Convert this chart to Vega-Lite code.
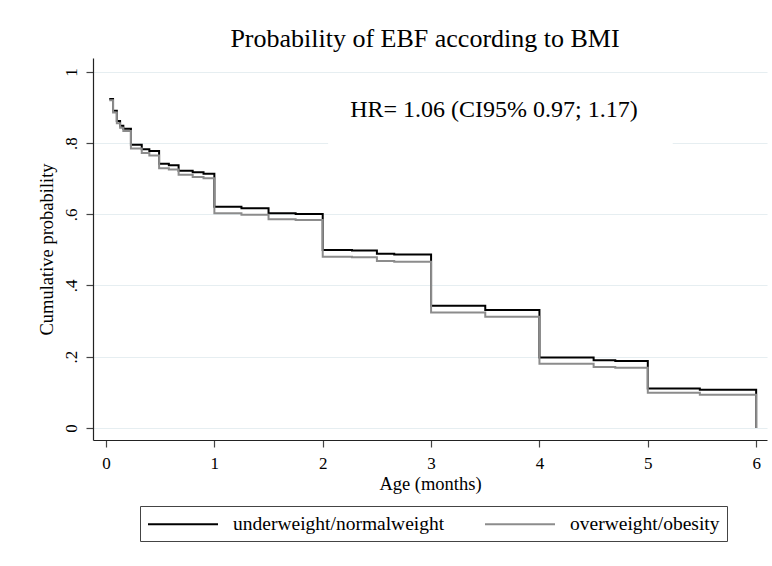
{
  "$schema": "https://vega.github.io/schema/vega-lite/v6.json",
  "autosize": "none",
  "width": 674,
  "height": 382,
  "padding": {"left": 93, "top": 58, "right": 5, "bottom": 126},
  "background": "white",
  "title": {
    "text": "Probability of EBF according to BMI",
    "font": "Liberation Serif",
    "fontSize": 26,
    "fontWeight": "normal",
    "color": "black",
    "anchor": "middle",
    "offset": 6,
    "dx": -5
  },
  "config": {
    "view": {"stroke": null},
    "font": "Liberation Serif",
    "axis": {
      "labelFont": "Liberation Serif",
      "titleFont": "Liberation Serif",
      "labelFontSize": 17,
      "titleFontSize": 18.5,
      "titleFontWeight": "normal",
      "labelColor": "black",
      "titleColor": "black",
      "domainColor": "#222",
      "domainWidth": 1.2,
      "tickColor": "#444",
      "tickSize": 7,
      "tickWidth": 1.2,
      "gridColor": "#e6eef1",
      "gridWidth": 1.2
    },
    "legend": {
      "labelFont": "Liberation Serif",
      "labelFontSize": 19.5,
      "labelColor": "black",
      "labelLimit": 0
    }
  },
  "datasets": {
    "km": [
      {"group": "underweight/normalweight", "t": 0.03, "p": 0.924},
      {"group": "underweight/normalweight", "t": 0.065, "p": 0.891},
      {"group": "underweight/normalweight", "t": 0.1, "p": 0.862},
      {"group": "underweight/normalweight", "t": 0.13, "p": 0.849},
      {"group": "underweight/normalweight", "t": 0.16, "p": 0.84},
      {"group": "underweight/normalweight", "t": 0.23, "p": 0.795},
      {"group": "underweight/normalweight", "t": 0.33, "p": 0.783},
      {"group": "underweight/normalweight", "t": 0.4, "p": 0.778},
      {"group": "underweight/normalweight", "t": 0.49, "p": 0.742},
      {"group": "underweight/normalweight", "t": 0.58, "p": 0.738},
      {"group": "underweight/normalweight", "t": 0.67, "p": 0.722},
      {"group": "underweight/normalweight", "t": 0.8, "p": 0.718},
      {"group": "underweight/normalweight", "t": 0.9, "p": 0.714},
      {"group": "underweight/normalweight", "t": 1.0, "p": 0.621},
      {"group": "underweight/normalweight", "t": 1.25, "p": 0.617},
      {"group": "underweight/normalweight", "t": 1.5, "p": 0.603},
      {"group": "underweight/normalweight", "t": 1.75, "p": 0.601},
      {"group": "underweight/normalweight", "t": 2.0, "p": 0.5},
      {"group": "underweight/normalweight", "t": 2.27, "p": 0.498},
      {"group": "underweight/normalweight", "t": 2.5, "p": 0.489},
      {"group": "underweight/normalweight", "t": 2.66, "p": 0.487},
      {"group": "underweight/normalweight", "t": 3.0, "p": 0.343},
      {"group": "underweight/normalweight", "t": 3.5, "p": 0.331},
      {"group": "underweight/normalweight", "t": 4.0, "p": 0.198},
      {"group": "underweight/normalweight", "t": 4.5, "p": 0.19},
      {"group": "underweight/normalweight", "t": 4.7, "p": 0.188},
      {"group": "underweight/normalweight", "t": 5.0, "p": 0.111},
      {"group": "underweight/normalweight", "t": 5.48, "p": 0.107},
      {"group": "underweight/normalweight", "t": 6.0, "p": 0.0},
      {"group": "overweight/obesity", "t": 0.03, "p": 0.92},
      {"group": "overweight/obesity", "t": 0.065, "p": 0.886},
      {"group": "overweight/obesity", "t": 0.1, "p": 0.856},
      {"group": "overweight/obesity", "t": 0.13, "p": 0.843},
      {"group": "overweight/obesity", "t": 0.16, "p": 0.834},
      {"group": "overweight/obesity", "t": 0.23, "p": 0.785},
      {"group": "overweight/obesity", "t": 0.33, "p": 0.772},
      {"group": "overweight/obesity", "t": 0.4, "p": 0.765},
      {"group": "overweight/obesity", "t": 0.49, "p": 0.729},
      {"group": "overweight/obesity", "t": 0.58, "p": 0.726},
      {"group": "overweight/obesity", "t": 0.67, "p": 0.711},
      {"group": "overweight/obesity", "t": 0.8, "p": 0.705},
      {"group": "overweight/obesity", "t": 0.9, "p": 0.701},
      {"group": "overweight/obesity", "t": 1.0, "p": 0.603},
      {"group": "overweight/obesity", "t": 1.25, "p": 0.599},
      {"group": "overweight/obesity", "t": 1.5, "p": 0.586},
      {"group": "overweight/obesity", "t": 1.75, "p": 0.584},
      {"group": "overweight/obesity", "t": 2.0, "p": 0.481},
      {"group": "overweight/obesity", "t": 2.27, "p": 0.479},
      {"group": "overweight/obesity", "t": 2.5, "p": 0.469},
      {"group": "overweight/obesity", "t": 2.66, "p": 0.467},
      {"group": "overweight/obesity", "t": 3.0, "p": 0.324},
      {"group": "overweight/obesity", "t": 3.5, "p": 0.312},
      {"group": "overweight/obesity", "t": 4.0, "p": 0.18},
      {"group": "overweight/obesity", "t": 4.5, "p": 0.171},
      {"group": "overweight/obesity", "t": 4.7, "p": 0.169},
      {"group": "overweight/obesity", "t": 5.0, "p": 0.099},
      {"group": "overweight/obesity", "t": 5.48, "p": 0.093},
      {"group": "overweight/obesity", "t": 6.0, "p": 0.0}
    ],
    "note": [
      {"label": "HR= 1.06 (CI95% 0.97; 1.17)"}
    ]
  },
  "layer": [
    {
      "data": {"name": "note"},
      "mark": {"type": "rect", "fill": "white", "stroke": null},
      "encoding": {
        "x": {"datum": 2.05, "type": "quantitative", "scale": {"domain": [-0.12, 6.1], "nice": false, "zero": false}},
        "x2": {"datum": 5.23},
        "y": {"datum": 0.785, "type": "quantitative", "scale": {"domain": [-0.034, 1.039], "nice": false, "zero": false}},
        "y2": {"datum": 0.99}
      }
    },
    {
      "data": {"name": "note"},
      "mark": {
        "type": "text",
        "font": "Liberation Serif",
        "fontSize": 24,
        "color": "black",
        "align": "center",
        "baseline": "middle"
      },
      "encoding": {
        "text": {"field": "label"},
        "x": {"datum": 3.58, "type": "quantitative"},
        "y": {"datum": 0.893, "type": "quantitative"}
      }
    },
    {
      "data": {"name": "km"},
      "transform": [{"filter": "datum.group == 'underweight/normalweight'"}],
      "mark": {"type": "line", "interpolate": "step-after", "strokeWidth": 2},
      "encoding": {
        "x": {
          "field": "t",
          "type": "quantitative",
          "scale": {"domain": [-0.12, 6.1], "nice": false, "zero": false},
          "axis": {
            "title": "Age (months)",
            "values": [0, 1, 2, 3, 4, 5, 6],
            "format": "d",
            "grid": false,
            "labelPadding": 8,
            "titlePadding": 3
          }
        },
        "y": {
          "field": "p",
          "type": "quantitative",
          "scale": {"domain": [-0.034, 1.039], "nice": false, "zero": false},
          "axis": {
            "title": "Cumulative probability",
            "values": [0, 0.2, 0.4, 0.6, 0.8, 1],
            "grid": true,
            "labelAngle": -90,
            "labelAlign": "center",
            "labelBaseline": "bottom",
            "labelPadding": 6,
            "titlePadding": 6,
            "labelExpr": "datum.value == 0 ? '0' : datum.value == 1 ? '1' : replace(format(datum.value, '.1f'), '0.', '.')"
          }
        },
        "color": {
          "field": "group",
          "type": "nominal",
          "scale": {
            "domain": ["underweight/normalweight", "overweight/obesity"],
            "range": ["#000000", "#8c8c8c"]
          },
          "legend": {
            "title": null,
            "orient": "none",
            "legendX": 47,
            "legendY": 448,
            "direction": "horizontal",
            "columns": 2,
            "symbolType": "M-3.5,0H3.5",
            "symbolSize": 400,
            "symbolStrokeWidth": 2,
            "symbolOffset": 25,
            "labelOffset": 39,
            "columnPadding": 36,
            "padding": 7,
            "strokeColor": "#444",
            "fillColor": "white"
          }
        }
      }
    },
    {
      "data": {"name": "km"},
      "transform": [{"filter": "datum.group == 'overweight/obesity'"}],
      "mark": {"type": "line", "interpolate": "step-after", "strokeWidth": 2},
      "encoding": {
        "x": {"field": "t", "type": "quantitative"},
        "y": {"field": "p", "type": "quantitative"},
        "color": {"field": "group", "type": "nominal"}
      }
    }
  ]
}
